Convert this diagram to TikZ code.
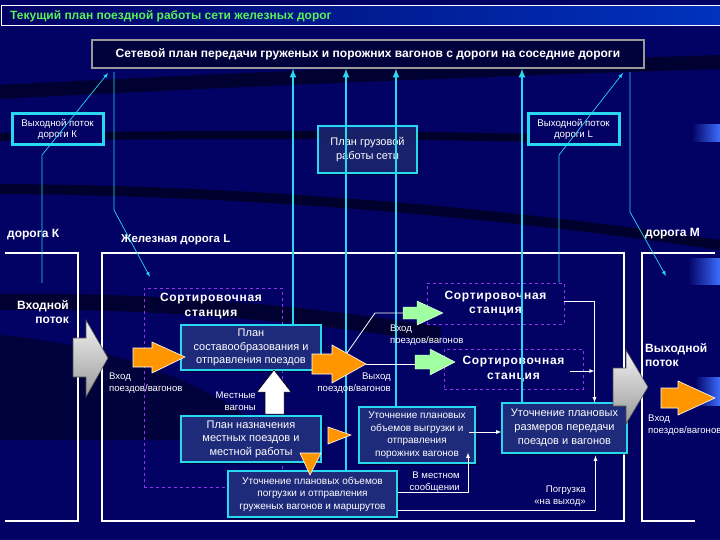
\documentclass[tikz,border=0pt]{standalone}
\usepackage{fontspec}
\setmainfont{Liberation Sans}
\usepackage{tikz}
\usetikzlibrary{shadows}
\definecolor{navy}{RGB}{2,2,100}
\definecolor{boxblue}{RGB}{30,42,122}
\definecolor{lineblue}{RGB}{40,215,240}
\definecolor{sortviolet}{RGB}{150,50,240}
\definecolor{orangearr}{RGB}{255,150,0}
\definecolor{greenarr}{RGB}{160,255,160}
\definecolor{titlegreen}{RGB}{90,240,90}
\definecolor{titleblue}{RGB}{0,50,190}
\definecolor{patchblue}{RGB}{60,110,255}
\tikzset{
  infobox/.style={draw=lineblue, line width=1.2pt, fill=boxblue, text=white, align=center, inner sep=1pt,
    font=\fontsize{11}{13.5}\selectfont, drop shadow={shadow xshift=2pt, shadow yshift=-2pt, opacity=.5, fill=black}},
  portbox/.style={draw=lineblue, line width=3pt, fill=navy, text=white, align=center, inner sep=1pt,
    font=\fontsize{9.7}{11.5}\selectfont},
  sortbox/.style={draw=sortviolet, dashed, line width=.8pt},
  sorttext/.style={text=white, align=center, font=\bfseries\fontsize{12}{14.5}\selectfont\addfontfeature{LetterSpace=6}},
  smalltext/.style={text=white, align=left, inner sep=1pt, font=\fontsize{9.6}{11.5}\selectfont},
  roadtext/.style={text=white, inner sep=1pt, font=\bfseries\fontsize{12}{14.5}\selectfont},
  feedline/.style={lineblue, line width=2pt, ->, >=latex},
  thinfeed/.style={lineblue, line width=.7pt, ->, >=latex},
  roadline/.style={white, line width=2pt},
  linkline/.style={white, line width=.8pt},
  grayarrow/.style={draw=black!70, line width=.6pt, top color=gray!10, bottom color=gray!80},
  orangearrow/.style={draw=white, line width=.6pt, fill=orangearr},
  greenarrow/.style={draw=white, line width=.4pt, fill=greenarr}
}
\begin{document}
\begin{tikzpicture}[x=1pt,y=-1pt]
\useasboundingbox (0,0) rectangle (720,540);
\fill[navy] (0,0) rectangle (720,540);
% dark streaks of the background
\draw[black, line width=14pt, opacity=.5] (0,92) .. controls (150,84) and (400,72) .. (720,62);
\draw[black, line width=8pt, opacity=.6] (0,137) .. controls (200,134) and (420,134) .. (600,140);
\draw[black, line width=10pt, opacity=.55] (0,189) .. controls (200,190) and (450,205) .. (720,245);
\draw[black, line width=16pt, opacity=.5] (0,302) .. controls (150,300) and (300,312) .. (440,335);
\fill[black, opacity=.4] (0,335) .. controls (120,345) and (220,390) .. (280,440) -- (0,440) -- cycle;
\shade[left color=navy, right color=patchblue] (692,125) rectangle (720,142);
\shade[left color=navy, right color=patchblue] (688,258) rectangle (720,284);
\shade[left color=navy, right color=patchblue] (695,377) rectangle (720,405);
% title bar
\shade[left color=navy, middle color=navy, right color=titleblue] (1,6) rectangle (720,26);
\draw[white, line width=1pt] (720,6) -- (1,6) -- (1,26) -- (720,26);
\node[anchor=west, inner sep=1pt, text=titlegreen, font=\bfseries\fontsize{12}{14}\selectfont] (title) at (9,16)
  {Текущий план поездной работы сети железных дорог};
\node[draw=gray!80, line width=1.2pt, fill=black!40!navy, minimum width=552pt, minimum height=28pt, text=white,
  font=\bfseries\fontsize{12}{14}\selectfont] (netbox) at (368,54)
  {Сетевой план передачи груженых и порожних вагонов с дороги на соседние дороги};
% roads
\draw[roadline] (5,253) -- (78,253) -- (78,521) -- (5,521);
\draw[roadline] (102,253) rectangle (624,521);
\draw[roadline] (715,253) -- (642,253) -- (642,521) -- (695,521);
\node[roadtext, anchor=west] (roadK) at (6,235) {дорога К};
\node[roadtext, anchor=west, font=\bfseries\fontsize{11.5}{14}\selectfont] (roadL) at (120,240) {Железная дорога L};
\node[roadtext, anchor=west] (roadM) at (644,234) {дорога М};
% sorting stations
\node[sortbox, minimum width=138pt, minimum height=199pt] (sortA) at (213,387.5) {};
\node[sorttext] (sortAtitle) at (211,306) {Сортировочная\\станция};
\node[sortbox, sorttext, minimum width=137pt, minimum height=41pt] (sortB) at (495.5,303.5) {Сортировочная\\станция};
\node[sortbox, sorttext, minimum width=139pt, minimum height=40pt] (sortC) at (513.5,369) {Сортировочная\\станция};
% plan boxes
\node[portbox, minimum width=91pt, minimum height=31pt] (portK) at (57.5,129.5) {Выходной поток\\дороги К};
\node[portbox, minimum width=91pt, minimum height=31pt] (portL) at (573.5,129.5) {Выходной поток\\дороги L};
\node[infobox, fill opacity=.8, text opacity=1, minimum width=99pt, minimum height=47pt] (freight) at (367.5,149.5)
  {План грузовой\\работы сети};
\node[infobox, minimum width=140pt, minimum height=45pt] (build) at (251,347.5) {План\\составообразования и\\отправления поездов};
\node[infobox, minimum width=140pt, minimum height=46pt] (local) at (251,439) {План назначения\\местных поездов и\\местной работы};
\node[infobox, minimum width=169pt, minimum height=46pt, font=\fontsize{10}{12.5}\selectfont] (loadbox) at (312.5,494)
  {Уточнение плановых объемов\\погрузки и отправления\\груженых вагонов и маршрутов};
\node[infobox, minimum width=116pt, minimum height=56pt, font=\fontsize{10}{12.5}\selectfont] (unload) at (417,435)
  {Уточнение плановых\\объемов выгрузки и\\отправления\\порожних вагонов};
\node[infobox, minimum width=125pt, minimum height=50pt, font=\fontsize{11}{14}\selectfont] (sizes) at (564.5,428)
  {Уточнение плановых\\размеров передачи\\поездов и вагонов};
% feeds into the network plan
\draw[feedline] ([xshift=42pt]build.north) coordinate (f1) -- (f1 |- netbox.south);
\draw[feedline] ([xshift=33.5pt]loadbox.north) coordinate (f2) -- (f2 |- netbox.south);
\draw[feedline] ([xshift=-21pt]unload.north) coordinate (f3) -- (f3 |- netbox.south);
\draw[feedline] ([xshift=-42.5pt]sizes.north) coordinate (f4) -- (f4 |- netbox.south);
\coordinate (kfoot) at (42,283);
\coordinate (ktip) at (108,73);
\draw[thinfeed] (kfoot) -- (42,155) -- (ktip);
\coordinate (ltop) at (114,72);
\coordinate (ltip) at (150,277);
\draw[thinfeed] (ltop) -- (114,210) -- (ltip);
\coordinate (lout) at (623,73);
\draw[thinfeed] ([xshift=63.5pt]sortB.north) -- (559,155) -- (lout);
\coordinate (mtop) at (630,72);
\coordinate (mtip) at (666,276);
\draw[thinfeed] (mtop) -- (630,212) -- (mtip);
% block arrows
\path[grayarrow] (73,338) -- (86,338) -- (86,320) -- (108,358) -- (86,397) -- (86,377) -- (73,377) -- cycle;
\path[grayarrow] (613,368) -- (626,368) -- (626,350) -- (648,387) -- (626,424) -- (626,406) -- (613,406) -- cycle;
\path[orangearrow] (133,348) -- (152,348) -- (152,342) -- (185,357) -- (152,373) -- (152,367) -- (133,367) -- cycle;
\path[orangearrow] (312,354) -- (332,354) -- (332,345) -- (366,364) coordinate (outtip) -- (332,383) -- (332,374) -- (312,374) -- cycle;
\path[orangearrow] (661,388) -- (678,388) -- (678,381) -- (715,398) -- (678,415) -- (678,408) -- (661,408) -- cycle;
\path[greenarrow] (403,307) -- (417,307) -- (417,301) -- (443,313) -- (417,325) -- (417,319) -- (403,319) -- cycle;
\path[greenarrow] (415,355) -- (430,355) -- (430,349) -- (455,362) -- (430,375) -- (430,369) -- (415,369) -- cycle;
\coordinate (outup) at (347,353);
\coordinate (gin1) at (403,313);
\coordinate (gin2) at (415,364);
\draw[linkline] (outup) -- (375,313) -- (gin1);
\draw[linkline] (outtip) -- (gin2);
\path[draw=black, fill=white, line width=.5pt] (265,414) -- (265,392) -- (257,392) -- (274,370) -- (291,392) -- (284,392) -- (284,414) -- cycle;
\path[orangearrow] (328,427) -- (351,435) -- (328,444) -- cycle;
\path[orangearrow] (300,453) -- (321,453) -- (310,475) -- cycle;
% refinement links
\draw[linkline, ->, >=latex] ([yshift=2pt]loadbox.east) -| ([xshift=51pt,yshift=11pt]unload.south);
\draw[linkline, ->, >=latex] ([yshift=-16pt]loadbox.east) -| ([xshift=31pt,yshift=-2pt]sizes.south);
\draw[linkline, ->, >=latex] ([xshift=-7pt,yshift=3pt]unload.east) -- ([yshift=-4pt]sizes.west);
\coordinate (sizesjoin) at ([xshift=30pt]sizes.north);
\draw[linkline, ->, >=latex] ([yshift=2.5pt]sortB.east) -| (sizesjoin);
\coordinate (cout) at ([xshift=-13pt,yshift=-2pt]sortC.east);
\draw[linkline, ->, >=latex] (cout) -- (cout -| sizesjoin);
% labels
\node[roadtext, anchor=east, align=right] (inflow) at (70,312) {Входной\\поток};
\node[roadtext, anchor=west, align=left] (outflow) at (644,355) {Выходной\\поток};
\node[smalltext, anchor=west] (inK) at (108,383) {Вход\\поездов/вагонов};
\node[smalltext, anchor=east, align=right] (outL) at (392,383) {Выход\\поездов/вагонов};
\node[smalltext, anchor=west] (inS) at (389,335) {Вход\\поездов/вагонов};
\node[smalltext, anchor=east, align=right] (localcars) at (257,401) {Местные\\вагоны};
\node[smalltext, anchor=east, align=right] (localmsg) at (461,482) {В местном\\сообщении};
\node[smalltext, anchor=east, align=right] (exitload) at (587,496) {Погрузка\\«на выход»};
\node[smalltext, anchor=west] (inM) at (647,425) {Вход\\поездов/вагонов};
\end{tikzpicture}
\end{document}
